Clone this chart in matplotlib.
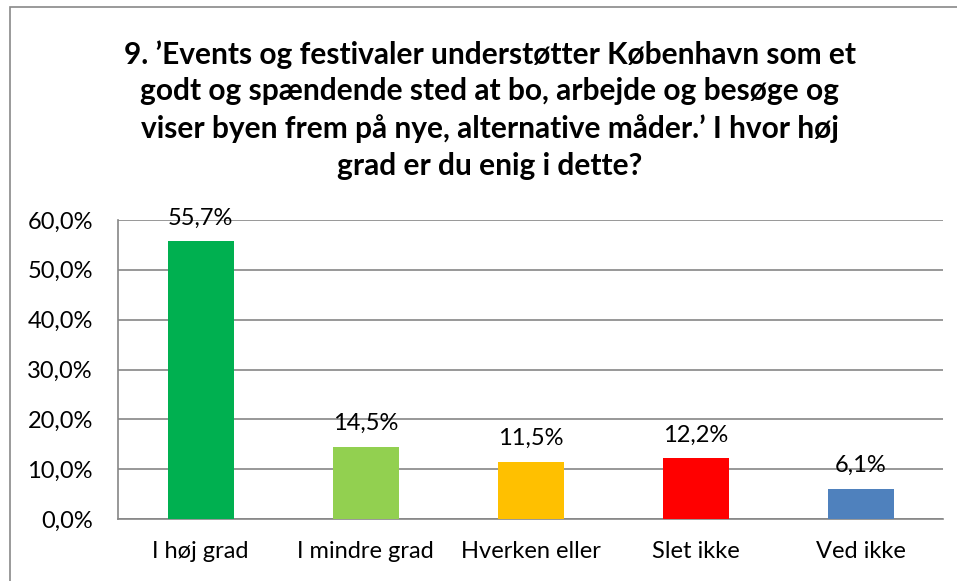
import matplotlib.pyplot as plt
from matplotlib.patches import Rectangle
from matplotlib.ticker import FuncFormatter

plt.rcParams['font.family'] = ['Lato', 'DejaVu Sans']

# Data
categories = ['I høj grad', 'I mindre grad', 'Hverken eller', 'Slet ikke', 'Ved ikke']
values = [55.7, 14.5, 11.5, 12.2, 6.1]
bar_colors = ['#00B050', '#92D050', '#FFC000', '#FF0000', '#4F81BD']
title = ("9. ’Events og festivaler understøtter København som et\n"
         "godt og spændende sted at bo, arbejde og besøge og\n"
         "viser byen frem på nye, alternative måder.’ I hvor høj\n"
         "grad er du enig i dette?")

fig = plt.figure(figsize=(9.57, 5.81), dpi=100)

# outer chart border (Excel-style)
fig.patches.append(Rectangle((10 / 957, -0.05), 1.0, 1.05 - 7 / 581,
                             transform=fig.transFigure, fill=False,
                             edgecolor='#898989', linewidth=1.2))

ax = fig.add_axes([118 / 957, 1 - 519 / 581, (943 - 118) / 957, (519 - 220) / 581])
x = range(len(categories))
ax.bar(x, values, width=0.4, color=bar_colors, zorder=3)

for xi, v in zip(x, values):
    ax.annotate(f'{v:.1f}%'.replace('.', ','), (xi, v), xytext=(0, 9),
                textcoords='offset points', ha='center', va='bottom',
                fontsize=17, color='#000000')

ax.set_xlim(-0.5, len(categories) - 0.5)
ax.set_ylim(0, 60)
ax.set_yticks(range(0, 61, 10))
ax.yaxis.set_major_formatter(FuncFormatter(lambda v, p: f'{v:.1f}%'.replace('.', ',')))
ax.set_xticks(list(x))
ax.set_xticklabels(categories)
ax.tick_params(axis='both', length=0, labelsize=17, colors='#000000')
ax.tick_params(axis='x', pad=16)
ax.tick_params(axis='y', pad=18)
ax.grid(axis='y', color='#868686', linewidth=1.2, zorder=0)
for s in ['top', 'right']:
    ax.spines[s].set_visible(False)
for s in ['left', 'bottom']:
    ax.spines[s].set_color('#868686')
    ax.spines[s].set_linewidth(1.2)

fig.text(490 / 957, 1 - 110 / 581, title, ha='center', va='center', fontsize=21.5,
         fontweight='bold', linespacing=1.38)

fig.savefig('out.png', dpi=100)
